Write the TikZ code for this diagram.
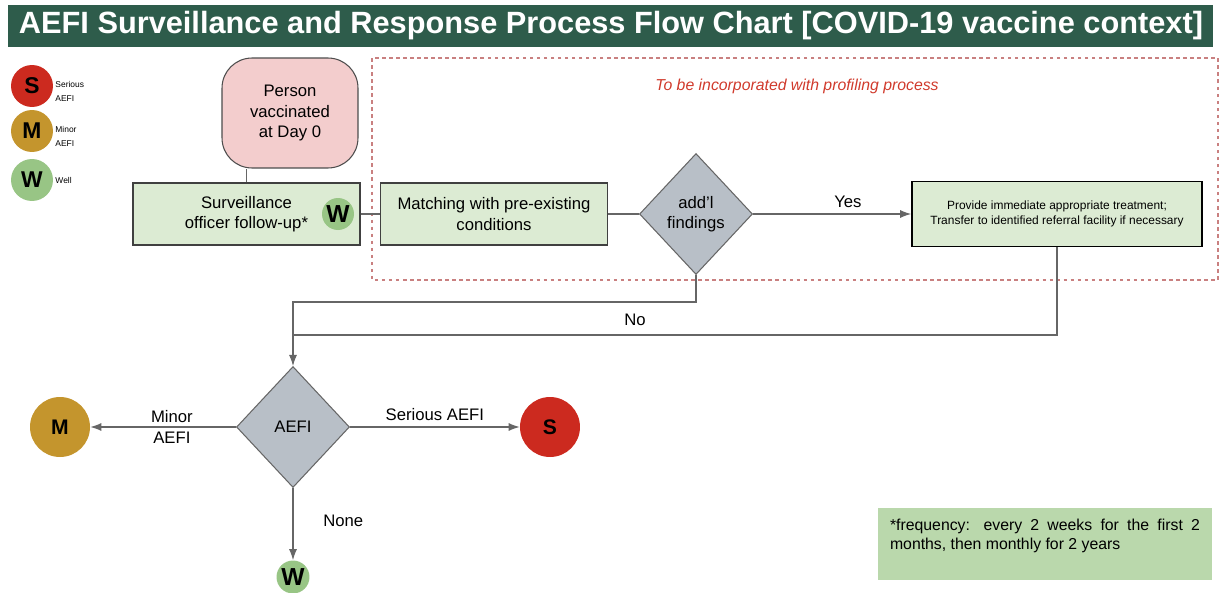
\documentclass[tikz,border=0pt]{standalone}
\usepackage{fontspec}
\setmainfont{Liberation Sans}
\usetikzlibrary{shapes.geometric,arrows.meta}
\definecolor{titlegreen}{HTML}{2E5C4B}
\definecolor{boxgreen}{HTML}{DCEBD3}
\definecolor{notegreen}{HTML}{BAD8AC}
\definecolor{pinkfill}{HTML}{F3CDCD}
\definecolor{diagray}{HTML}{B8BFC7}
\definecolor{sred}{HTML}{CC2A1F}
\definecolor{mgold}{HTML}{C4952D}
\definecolor{wgreen}{HTML}{98C585}
\definecolor{dashred}{HTML}{C98080}
\definecolor{notered}{HTML}{D03A2C}

\begin{document}
\begin{tikzpicture}[x=0.02cm, y=-0.02cm,
		procbox/.style={draw=black!75, fill=boxgreen, line width=0.6pt, minimum width=4.54cm, minimum height=1.24cm, align=center, font=\fontsize{9.5}{11.5}\selectfont},
		decision/.style={diamond, draw=black!60, fill=diagray, line width=0.6pt, minimum width=2.26cm, minimum height=2.42cm, inner sep=0pt, align=center, font=\fontsize{9.5}{11.5}\selectfont},
		marker/.style={circle, inner sep=0pt, text=black},
		legcirc/.style={marker, minimum size=0.84cm, font=\bfseries\fontsize{13}{13}\selectfont},
		legtxt/.style={anchor=west, align=left, inner sep=1pt, font=\fontsize{4.8}{8}\selectfont},
		conn/.style={line width=0.6pt, color=black!60},
		arr/.style={conn, -{Latex[length=2.2mm, width=1.6mm]}},
		lbl/.style={text=black, font=\fontsize{9.5}{11.5}\selectfont}]
		%%%%% START %%%%%
		
		\useasboundingbox (0, 0) rectangle (1221, 592);
		
		\fill[titlegreen] (8, 5) rectangle (1213, 47);
		\node[text=white, font=\bfseries\fontsize{17.5}{20}\selectfont] (title) at (611, 26) {AEFI Surveillance and Response Process Flow Chart [COVID-19 vaccine context]};
		
		\node[legcirc, fill=sred] (legS) at (32, 86) {S};
		\node[legtxt] (legSt) at ([yshift=-0.1cm]legS.east) {Serious\\AEFI};
		\node[legcirc, fill=mgold] (legM) at (32, 131) {M};
		\node[legtxt] (legMt) at ([yshift=-0.1cm]legM.east) {Minor\\AEFI};
		\node[legcirc, fill=wgreen] (legW) at (32, 180) {W};
		\node[legtxt] (legWt) at (legW.east) {Well};
		
		\draw[dashed, color=dashred, line width=0.6pt, dash pattern=on 2pt off 2pt] (372, 58) rectangle (1218, 280);
		\node[text=notered, font=\itshape\fontsize{9}{11}\selectfont] (profnote) at (797, 86) {To be incorporated with profiling process};
		
		\node[draw=black!70, fill=pinkfill, line width=0.6pt, rounded corners=0.6cm, minimum width=2.72cm, minimum height=2.2cm, align=center, font=\fontsize{9.5}{11.5}\selectfont] (person) at (290, 113) {Person\\vaccinated\\at Day 0};
		
		\node[procbox] (surv) at (246.5, 214) {Surveillance\\officer follow-up*};
		\node[marker, fill=wgreen, minimum size=0.64cm, font=\bfseries\fontsize{14}{14}\selectfont] (survW) at (338, 214) {W};
		\node[procbox] (match) at (494, 214) {Matching with pre-existing\\conditions};
		\node[decision] (find) at (696, 214) {add'l\\findings};
		\node[draw=black, fill=boxgreen, line width=1pt, minimum width=5.8cm, minimum height=1.3cm, align=center, font=\fontsize{6.8}{9}\selectfont] (treat) at (1057, 214) {Provide immediate appropriate treatment;\\Transfer to identified referral facility if necessary};
		
		\node[decision] (aefi) at (293, 427) {AEFI};
		\node[marker, fill=mgold, minimum size=1.2cm, font=\bfseries\fontsize{12}{12}\selectfont] (minor) at (60, 427) {M};
		\node[marker, fill=sred, minimum size=1.2cm, font=\bfseries\fontsize{12}{12}\selectfont] (serious) at (550, 427) {S};
		\node[marker, fill=wgreen, minimum size=0.66cm, font=\bfseries\fontsize{14}{14}\selectfont] (well) at (293, 577) {W};
		
		\draw[conn] (surv.north) -- (surv.north |- person.south);
		\draw[conn] (surv.east) -- (match.west);
		\draw[conn] (match.east) -- (find.west);
		\draw[arr] (find.east) -- node[above, lbl, pos=0.6] (yeslbl) {Yes} (treat.west);
		
		\coordinate (nojoin) at (293, 302);
		\coordinate (treatjoin) at (293, 335);
		\draw[arr] (find.south) |- (nojoin) -- (aefi.north);
		\draw[conn] (treat.south) |- (treatjoin);
		\node[lbl] (nolbl) at (635, 320) {No};
		
		\draw[arr] (aefi.west) -- node[lbl, align=center, pos=0.44] (minorlbl) {Minor\\AEFI} (minor.east);
		\draw[arr] (aefi.east) -- node[lbl, above] (seriouslbl) {Serious AEFI} (serious.west);
		\draw[arr] (aefi.south) -- node[lbl, right, xshift=0.48cm, pos=0.45] (nonelbl) {None} (well.north);
		
		\fill[notegreen] (878, 508) rectangle (1212, 580);
		\node[text width=6.2cm, align=justify, inner sep=0pt, font=\fontsize{9}{10.5}\selectfont] (freq) at (1045, 536) {*frequency: every 2 weeks for the first 2 months, then monthly for 2 years};
		
		%%%%% END %%%%%
\end{tikzpicture}
\end{document}
